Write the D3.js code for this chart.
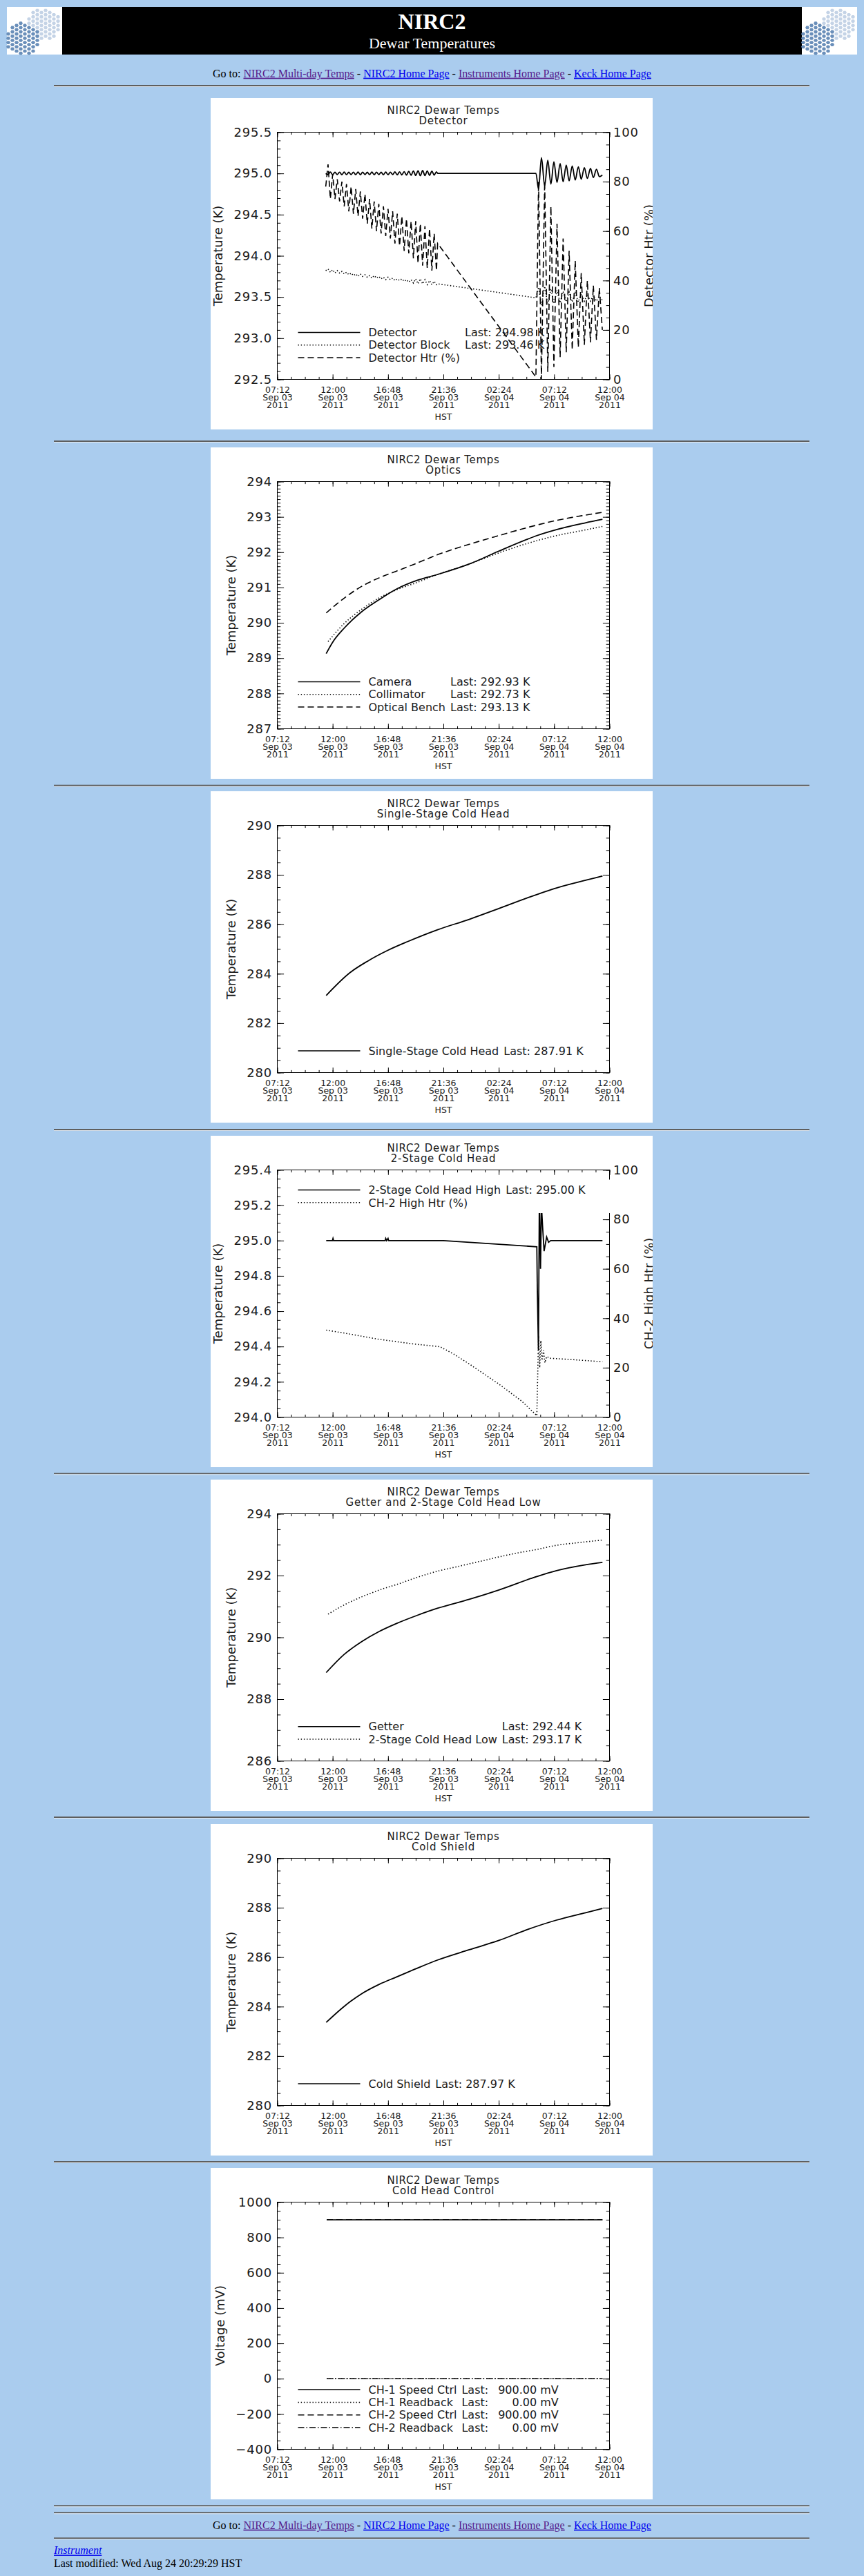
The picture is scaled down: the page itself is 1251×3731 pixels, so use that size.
<!DOCTYPE html>
<html lang='en'>
<head>
	<meta charset='UTF-8'/>
	<title>NIRC2 Dewar Temperatures</title>
	<script src='https://cdnjs.cloudflare.com/ajax/libs/d3/7.8.5/d3.min.js'></script>
	<style>
		html, body {margin: 0; padding: 0; background: #aaccee;}
		svg {display: block;}
		text {white-space: pre;}
		.serif {font-family: 'Liberation Serif', 'Times New Roman', serif;}
		.idl {font-family: 'DejaVu Sans', Verdana, sans-serif;}
	</style>
</head>
<body>
	<div id='page'></div>
	<script>
		// ---- data: times are hours after Sep 03 2011 00:00 HST ----
		const xTickLabels = ['2011-09-03 07:12', '2011-09-03 12:00', '2011-09-03 16:48', '2011-09-03 21:36',
			'2011-09-04 02:24', '2011-09-04 07:12', '2011-09-04 12:00'];

		// Detector plot: controlled stretch (A), then recovery after the step (C)
		const detTimeA = [11.4, 11.6, 11.8, 12.0, 12.2, 12.4, 12.6, 12.8, 13.0, 13.2, 13.4, 13.6, 13.8, 14.0, 14.2,
			14.4, 14.6, 14.8, 15.0, 15.2, 15.4, 15.6, 15.8, 16.0, 16.2, 16.4, 16.6, 16.8, 17.0, 17.2, 17.4, 17.6,
			17.8, 18.0, 18.2, 18.4, 18.6, 18.8, 19.0, 19.2, 19.4, 19.6, 19.8, 20.0, 20.2, 20.4, 20.6, 20.8, 21.0, 21.1];
		const detTempA = [295.00, 294.986, 295.016, 294.985, 295.014, 294.986, 295.015, 294.984, 295.016, 294.985,
			295.014, 294.986, 295.015, 294.985, 295.016, 294.984, 295.015, 294.986, 295.014, 294.985,
			295.016, 294.985, 295.015, 294.986, 295.014, 294.984, 295.016, 294.985, 295.015, 294.986,
			295.018, 294.983, 295.020, 294.982, 295.022, 294.980, 295.025, 294.978, 295.030, 294.975,
			295.032, 294.972, 295.035, 294.974, 295.030, 294.976, 295.028, 294.980, 295.020, 295.000];
		const detBlockA = [293.82, 293.84, 293.80, 293.83, 293.79, 293.82, 293.79, 293.81, 293.78, 293.80,
			293.77, 293.79, 293.76, 293.78, 293.75, 293.78, 293.75, 293.77, 293.74, 293.76,
			293.73, 293.76, 293.73, 293.75, 293.72, 293.74, 293.71, 293.74, 293.71, 293.73,
			293.70, 293.72, 293.70, 293.72, 293.69, 293.71, 293.68, 293.71, 293.67, 293.72,
			293.66, 293.72, 293.66, 293.71, 293.65, 293.70, 293.65, 293.69, 293.65, 293.66];
		const detHtrA = [78, 87, 73, 83, 73, 81, 72, 80, 70, 79, 68, 78, 67, 77, 66, 76, 65, 75, 63, 73,
			61, 72, 60, 71, 59, 70, 58, 69, 57, 68, 55, 67, 54, 66, 52, 65, 51, 64, 49, 64,
			47, 63, 46, 62, 45, 61, 44, 59, 44, 55];
		const detTimeC = [29.62, 29.85, 30.1, 30.38, 30.65, 30.92, 31.18, 31.45, 31.72, 31.98, 32.25, 32.5,
			32.77, 33.03, 33.3, 33.55, 33.82, 34.08, 34.35, 34.6, 34.87, 35.12, 35.38];
		const detTempC = [295.00, 294.81, 295.19, 294.85, 295.16, 294.87, 295.14, 294.89, 295.12, 294.90, 295.10,
			294.91, 295.09, 294.92, 295.08, 294.93, 295.07, 294.94, 295.06, 294.95, 295.05, 294.96, 294.98];
		const detBlockC = [293.49, 293.62, 293.40, 293.63, 293.41, 293.60, 293.42, 293.58, 293.43, 293.57, 293.44,
			293.56, 293.44, 293.55, 293.44, 293.54, 293.45, 293.53, 293.45, 293.52, 293.45, 293.51, 293.46];
		const detHtrC = [1, 80, 0, 80, 3, 70, 5, 63, 9, 57, 11, 52, 12, 48, 13, 43, 14, 40, 15, 38, 16, 37, 20];

		// Optics
		const camera = [[11.44, 289.13], [12.0, 289.45], [13.0, 289.85], [14.5, 290.31], [16.0, 290.65], [17.5, 290.95],
			[19.3, 291.2], [21.1, 291.37], [23.8, 291.66], [26.4, 292.03], [28.9, 292.37], [29.7, 292.47],
			[31.4, 292.64], [33.9, 292.83], [35.39, 292.93]];
		const collimator = [[11.6, 289.47], [13.0, 289.98], [14.5, 290.38], [16.0, 290.7], [17.5, 290.93], [19.3, 291.14],
			[21.1, 291.37], [23.8, 291.66], [26.4, 291.98], [28.9, 292.25], [31.4, 292.47], [33.9, 292.63], [35.39, 292.73]];
		const bench = [[11.44, 290.28], [13.0, 290.7], [14.5, 291.03], [16.0, 291.27], [17.5, 291.46], [19.3, 291.69],
			[21.1, 291.93], [23.8, 292.22], [26.4, 292.47], [28.9, 292.7], [31.4, 292.9], [33.9, 293.05], [35.39, 293.13]];

		// Single-stage cold head
		const singleStage = [[11.44, 283.12], [13.52, 284.05], [15.0, 284.5], [16.8, 284.95], [18.5, 285.3],
			[21.1, 285.78], [23.84, 286.2], [26.37, 286.63], [28.89, 287.07], [31.41, 287.47], [33.93, 287.78], [35.39, 287.95]];

		// 2-stage cold head (high) and its heater
		const chHigh = [[11.44, 295.0], [11.98, 295.0], [12.03, 295.012], [12.08, 295.0], [16.55, 295.0], [16.6, 295.012],
			[16.68, 295.0], [16.8, 295.012], [16.85, 295.0], [21.6, 295.0], [29.7, 294.965], [29.74, 294.74],
			[29.8, 294.52], [29.84, 294.38], [29.92, 295.25], [30.02, 294.84], [30.1, 295.2], [30.2, 295.08],
			[30.33, 294.94], [30.55, 295.02], [30.72, 294.99], [30.9, 295.0], [35.39, 295.0]];
		const chHighHtr = [[11.44, 35.2], [13.0, 34.0], [16.0, 31.5], [19.0, 29.6], [21.3, 28.5], [22.5, 25.5],
			[23.84, 21.5], [26.37, 13.5], [28.38, 6.5], [29.7, 0.6], [29.85, 33], [29.95, 20], [30.05, 31],
			[30.15, 23], [30.28, 27], [30.4, 22], [30.55, 24.5], [30.9, 23.8], [33.0, 23.2], [35.39, 22.4]];

		// Getter and 2-stage cold head (low)
		const getter = [[11.44, 288.86], [13.0, 289.45], [14.51, 289.86], [16.03, 290.19], [17.54, 290.45],
			[19.31, 290.71], [21.07, 290.94], [23.84, 291.23], [26.37, 291.53], [29.7, 291.97], [31.41, 292.16],
			[33.93, 292.35], [35.39, 292.43]];
		const chLow = [[11.6, 290.75], [13.0, 291.05], [14.51, 291.31], [16.03, 291.53], [17.54, 291.71],
			[19.31, 291.94], [21.07, 292.14], [22.58, 292.27], [23.84, 292.38], [25.36, 292.51], [26.37, 292.6],
			[28.13, 292.74], [29.64, 292.84], [31.41, 292.98], [33.43, 293.07], [35.39, 293.15]];

		// Cold shield
		const coldShield = [[11.44, 283.36], [13.0, 284.01], [14.51, 284.52], [16.03, 284.9], [17.54, 285.2],
			[19.31, 285.55], [21.07, 285.88], [23.84, 286.3], [26.37, 286.67], [28.89, 287.12], [31.41, 287.5],
			[33.93, 287.8], [35.39, 287.97]];

		// Cold head control (mV)
		const ch1Speed = [[11.48, 900], [35.39, 900]];
		const ch1Read = [[11.48, 0], [35.39, 0]];
		const ch2Speed = [[11.48, 900], [35.39, 900]];
		const ch2Read = [[11.48, 0], [35.39, 0]];

		// ---- helpers ----
		const zip = (t, v) => t.map((h, i) => [h, v[i]]);
		const day0 = new Date(2011, 8, 3);
		const toDate = h => new Date(day0.getTime() + h * 3600 * 1000);
		const xTicks = xTickLabels.map(d3.timeParse('%Y-%m-%d %H:%M'));
		const xMinor = d3.range(25).map(i => new Date(xTicks[0].getTime() + i * 72 * 60000));

		const STYLE = {
			solid: {w: 1.8, dash: null},
			dotted: {w: 1.6, dash: '1.4,2.8'},
			dashed: {w: 1.6, dash: '9,5'},
			dashdot: {w: 1.4, dash: '9,3,1.5,3'}
		};

		const charts = [
			{sub: 'Detector', y: [292.5, 295.5], step: 0.5, minor: 5, fmt: '.1f', yTitle: 'Temperature (K)',
				right: {domain: [0, 100], step: 20, minor: 4, title: 'Detector Htr (%)'},
				series: [
					{name: 'Detector', last: '294.98 K', style: 'solid', curve: d3.curveMonotoneX,
						data: zip(detTimeA, detTempA).concat(zip(detTimeC, detTempC))},
					{name: 'Detector Block', last: '293.46 K', style: 'dotted',
						data: zip(detTimeA, detBlockA).concat(zip(detTimeC, detBlockC))},
					{name: 'Detector Htr (%)', style: 'dashed', axis: 'right',
						data: zip(detTimeA, detHtrA).concat(zip(detTimeC, detHtrC))}
				]},
			{sub: 'Optics', y: [287, 294], step: 1, minor: 10, fmt: 'd', yTitle: 'Temperature (K)',
				series: [
					{name: 'Camera', last: '292.93 K', style: 'solid', curve: d3.curveMonotoneX, data: camera},
					{name: 'Collimator', last: '292.73 K', style: 'dotted', curve: d3.curveMonotoneX, data: collimator},
					{name: 'Optical Bench', last: '293.13 K', style: 'dashed', curve: d3.curveMonotoneX, data: bench}
				]},
			{sub: 'Single-Stage Cold Head', y: [280, 290], step: 2, minor: 4, fmt: 'd', yTitle: 'Temperature (K)',
				series: [
					{name: 'Single-Stage Cold Head', last: '287.91 K', style: 'solid', curve: d3.curveMonotoneX, data: singleStage}
				]},
			{sub: '2-Stage Cold Head', y: [294.0, 295.4], step: 0.2, minor: 4, fmt: '.1f', yTitle: 'Temperature (K)',
				right: {domain: [0, 100], step: 20, minor: 4, title: 'CH-2 High Htr (%)'},
				legendTop: true, clearBox: true,
				series: [
					{name: '2-Stage Cold Head High', last: '295.00 K', style: 'solid', data: chHigh},
					{name: 'CH-2 High Htr (%)', style: 'dotted', axis: 'right', data: chHighHtr}
				]},
			{sub: 'Getter and 2-Stage Cold Head Low', y: [286, 294], step: 2, minor: 4, fmt: 'd', yTitle: 'Temperature (K)',
				series: [
					{name: 'Getter', last: '292.44 K', style: 'solid', curve: d3.curveMonotoneX, data: getter},
					{name: '2-Stage Cold Head Low', last: '293.17 K', style: 'dotted', curve: d3.curveMonotoneX, data: chLow}
				]},
			{sub: 'Cold Shield', y: [280, 290], step: 2, minor: 4, fmt: 'd', yTitle: 'Temperature (K)',
				series: [
					{name: 'Cold Shield', last: '287.97 K', style: 'solid', curve: d3.curveMonotoneX, data: coldShield}
				]},
			{sub: 'Cold Head Control', y: [-400, 1000], step: 200, minor: 4, fmt: 'd', yTitle: 'Voltage (mV)',
				valueColumn: true,
				series: [
					{name: 'CH-1 Speed Ctrl', last: '900.00 mV', style: 'solid', data: ch1Speed},
					{name: 'CH-1 Readback', last: '0.00 mV', style: 'dotted', data: ch1Read},
					{name: 'CH-2 Speed Ctrl', last: '900.00 mV', style: 'dashed', data: ch2Speed},
					{name: 'CH-2 Readback', last: '0.00 mV', style: 'dashdot', data: ch2Read}
				]}
		];

		// ---- page ----
		const W = 1251, H = 3731;
		const svg = d3.select('#page').append('svg').attr('width', W).attr('height', H);
		const defs = svg.append('defs');

		// banner
		svg.append('rect').attr('x', 90).attr('y', 10).attr('width', 1071).attr('height', 69).attr('fill', '#000');
		[10, 1161].forEach(x0 => {
			const lg = svg.append('g').attr('transform', `translate(${x0},10)`);
			lg.append('rect').attr('width', 80).attr('height', 69).attr('fill', '#fff');
			const cells = [];
			for (let c = 0; c < 14; c++)
				for (let r = 0; r < 12; r++) cells.push([2 + c * 6, 2 + r * 6.2 + (c % 2) * 3.1]);
			const hex = d3.range(6).map(k => [3 * Math.cos(k * Math.PI / 3), 2.7 * Math.sin(k * Math.PI / 3)]);
			[['#c4d3e6', [54, 25]], ['#6a8fba', [23, 46]]].forEach(([col, ctr]) => {
				lg.append('g').selectAll('path')
					.data(cells.filter(p => Math.hypot(p[0] - ctr[0], (p[1] - ctr[1]) * 1.1) < 25))
					.join('path')
					.attr('d', p => 'M' + hex.map(h => [p[0] + h[0], p[1] + h[1]].join(',')).join('L') + 'Z')
					.attr('fill', col);
			});
		});
		svg.append('text').attr('class', 'serif').attr('x', 625.5).attr('y', 42).attr('text-anchor', 'middle')
			.attr('font-size', 32).attr('font-weight', 'bold').attr('fill', '#fff').text('NIRC2');
		svg.append('text').attr('class', 'serif').attr('x', 625.5).attr('y', 70).attr('text-anchor', 'middle')
			.attr('font-size', 22).attr('fill', '#fff').text('Dewar Temperatures');

		function nav(yb) {
			const parts = [['Go to: ', null], ['NIRC2 Multi-day Temps', '#551a8b'], [' - ', null], ['NIRC2 Home Page', '#0000ee'],
				[' - ', null], ['Instruments Home Page', '#551a8b'], [' - ', null], ['Keck Home Page', '#0000ee']];
			svg.append('text').attr('class', 'serif').attr('x', 625.5).attr('y', yb).attr('text-anchor', 'middle')
				.attr('font-size', 16)
				.selectAll('tspan').data(parts).join('tspan')
				.attr('fill', d => d[1] || '#000')
				.attr('text-decoration', d => d[1] ? 'underline' : null)
				.text(d => d[0]);
		}
		function hr(y) {
			svg.append('rect').attr('x', 78).attr('y', y).attr('width', 1094).attr('height', 2).attr('fill', '#5e5e5e');
			svg.append('rect').attr('x', 78).attr('y', y + 2).attr('width', 1094).attr('height', 1).attr('fill', '#dfe8f2');
		}

		nav(111.7);
		hr(123);

		// ---- charts ----
		const M = {left: 96.5, right: 577.5, top: 49.5, bottom: 407.5};
		const fmtT = d3.timeFormat('%H:%M'), fmtD = d3.timeFormat('%b %d'), fmtY = d3.timeFormat('%Y');
		const tickRange = (lo, hi, step) => d3.range(Math.round((hi - lo) / step) + 1).map(i => +(lo + i * step).toFixed(6));
		const FONT = "'DejaVu Sans', Verdana, sans-serif";

		function drawChart(c, top, idx) {
			const g = svg.append('g').attr('transform', `translate(305,${top})`);
			defs.append('clipPath').attr('id', 'pc' + idx).append('rect').attr('width', 640).attr('height', 480);
			defs.append('clipPath').attr('id', 'pl' + idx).append('rect')
				.attr('x', M.left).attr('y', M.top).attr('width', M.right - M.left).attr('height', M.bottom - M.top);
			const p = g.append('g').attr('clip-path', `url(#pc${idx})`).attr('class', 'idl').attr('fill', '#1a1a1a');
			p.append('rect').attr('width', 640).attr('height', 480).attr('fill', '#fff');

			const x = d3.scaleTime().domain([xTicks[0], xTicks[6]]).range([M.left, M.right]);
			const y = d3.scaleLinear().domain(c.y).range([M.bottom, M.top]);
			const yR = c.right ? d3.scaleLinear().domain(c.right.domain).range([M.bottom, M.top]) : null;
			const midX = (M.left + M.right) / 2, midY = (M.top + M.bottom) / 2;

			p.append('text').attr('x', midX).attr('y', 23.3).attr('text-anchor', 'middle').attr('font-size', 15)
				.attr('letter-spacing', 0.7).text('NIRC2 Dewar Temps');
			p.append('text').attr('x', midX).attr('y', 37.7).attr('text-anchor', 'middle').attr('font-size', 15)
				.attr('letter-spacing', 0.7).text(c.sub);

			// data
			const dg = p.append('g').attr('clip-path', `url(#pl${idx})`);
			c.series.forEach(s => {
				const ys = s.axis === 'right' ? yR : y;
				const line = d3.line().x(d => x(toDate(d[0]))).y(d => ys(d[1])).curve(s.curve || d3.curveLinear);
				dg.append('path').datum(s.data).attr('d', line).attr('fill', 'none').attr('stroke', '#000')
					.attr('stroke-width', STYLE[s.style].w).attr('stroke-dasharray', STYLE[s.style].dash);
			});

			// axes
			const ax = tr => p.append('g').attr('transform', tr).attr('color', '#000');
			const yMajor = tickRange(c.y[0], c.y[1], c.step), yMinor = tickRange(c.y[0], c.y[1], c.step / c.minor);
			const left = ax(`translate(${M.left},0)`)
				.call(d3.axisLeft(y).tickValues(yMajor).tickSize(-9.6).tickPadding(7.6).tickFormat(d3.format(c.fmt)))
				.attr('font-size', 18).attr('font-family', FONT);
			left.selectAll('text').attr('letter-spacing', 0.8).attr('fill', '#1a1a1a');
			ax(`translate(${M.left},0)`).call(d3.axisLeft(y).tickValues(yMinor).tickSize(-4.8).tickFormat(''));

			if (c.right) {
				const rMajor = tickRange(c.right.domain[0], c.right.domain[1], c.right.step);
				const rMinor = tickRange(c.right.domain[0], c.right.domain[1], c.right.step / c.right.minor);
				ax(`translate(${M.right},0)`)
					.call(d3.axisRight(yR).tickValues(rMajor).tickSize(-9.6).tickPadding(5.5).tickFormat(d3.format('d')))
					.attr('font-size', 18).attr('font-family', FONT)
					.selectAll('text').attr('letter-spacing', 0.8).attr('fill', '#1a1a1a');
				ax(`translate(${M.right},0)`).call(d3.axisRight(yR).tickValues(rMinor).tickSize(-4.8).tickFormat(''));
			} else {
				ax(`translate(${M.right},0)`).call(d3.axisRight(y).tickValues(yMajor).tickSize(-9.6).tickFormat(''));
				ax(`translate(${M.right},0)`).call(d3.axisRight(y).tickValues(yMinor).tickSize(-4.8).tickFormat(''));
			}

			const bottom = ax(`translate(0,${M.bottom})`)
				.call(d3.axisBottom(x).tickValues(xTicks).tickSize(-7.2).tickFormat(''));
			ax(`translate(0,${M.bottom})`).call(d3.axisBottom(x).tickValues(xMinor).tickSize(-3.6).tickFormat(''));
			ax(`translate(0,${M.top})`).call(d3.axisTop(x).tickValues(xTicks).tickSize(-7.2).tickFormat(''));
			ax(`translate(0,${M.top})`).call(d3.axisTop(x).tickValues(xMinor).tickSize(-3.6).tickFormat(''));
			bottom.selectAll('.tick text').remove();
			bottom.selectAll('.tick').append('text').attr('fill', '#1a1a1a').attr('text-anchor', 'middle')
				.attr('font-size', 12.5).attr('font-family', FONT)
				.selectAll('tspan').data(d => [fmtT(d), fmtD(d), fmtY(d)]).join('tspan')
				.attr('x', 0).attr('y', (d, i) => 19 + i * 11.2).text(d => d);
			p.selectAll('.domain').remove();

			p.append('rect').attr('x', M.left).attr('y', M.top).attr('width', M.right - M.left)
				.attr('height', M.bottom - M.top).attr('fill', 'none').attr('stroke', '#000');

			p.append('text').attr('x', midX).attr('y', M.bottom + 58).attr('text-anchor', 'middle')
				.attr('font-size', 12.5).text('HST');

			// axis titles
			const lb = left.node().getBBox();
			const tx = M.left + lb.x - 16;
			p.append('text').attr('transform', `translate(${tx},${midY}) rotate(-90)`).attr('text-anchor', 'middle')
				.attr('font-size', 18).text(c.yTitle);
			if (c.right) {
				p.append('text').attr('transform', `translate(641,${midY}) rotate(-90)`).attr('text-anchor', 'middle')
					.attr('font-size', 18).text(c.right.title);
			}

			// legend
			if (c.clearBox) {
				p.append('rect').attr('x', M.left + 25).attr('y', M.top + 14).attr('width', M.right - M.left - 19)
					.attr('height', 48.5).attr('fill', '#fff');
			}
			const n = c.series.length;
			const rowY = i => c.legendTop ? M.top + 29 + i * 18.3 : M.top + 326.5 - (n - 1 - i) * 18.3;
			const lg = p.append('g').attr('font-size', 16);
			const textX = M.left + 132;
			c.series.forEach((s, i) => {
				lg.append('line').attr('x1', M.left + 30).attr('x2', M.left + 120).attr('y1', rowY(i)).attr('y2', rowY(i))
					.attr('stroke', '#000').attr('stroke-width', Math.min(STYLE[s.style].w, 1.5))
					.attr('stroke-dasharray', STYLE[s.style].dash);
			});
			const labels = lg.selectAll('text.lab').data(c.series).join('text').attr('class', 'lab')
				.attr('x', textX).attr('y', (d, i) => rowY(i) + 5.7).text(d => d.name);
			let maxW = 0;
			labels.each(function () { maxW = Math.max(maxW, this.getComputedTextLength()); });
			const lastX = textX + maxW + 7;
			const withLast = c.series.filter(s => s.last);
			if (c.valueColumn) {
				const lastTxt = lg.selectAll('text.last').data(withLast).join('text').attr('class', 'last')
					.attr('x', lastX).attr('y', d => rowY(c.series.indexOf(d)) + 5.7).text('Last:');
				const lastW = lastTxt.node().getComputedTextLength();
				const vals = lg.selectAll('text.val').data(withLast).join('text').attr('class', 'val')
					.attr('y', d => rowY(c.series.indexOf(d)) + 5.7).attr('text-anchor', 'end').text(d => d.last);
				let maxV = 0;
				vals.each(function () { maxV = Math.max(maxV, this.getComputedTextLength()); });
				vals.attr('x', lastX + lastW + 14 + maxV);
			} else {
				lg.selectAll('text.last').data(withLast).join('text').attr('class', 'last')
					.attr('x', lastX).attr('y', d => rowY(c.series.indexOf(d)) + 5.7).text(d => 'Last: ' + d.last);
			}
		}

		const panelTops = [142, 648, 1146, 1645, 2143, 2642, 3140];
		charts.forEach((c, i) => drawChart(c, panelTops[i], i));
		[638, 1136.7, 1635, 2133.3, 2631, 3130, 3628.3, 3638.3].forEach(hr);

		// footer
		nav(3662.7);
		hr(3675.3);
		svg.append('text').attr('class', 'serif').attr('x', 78).attr('y', 3699.3).attr('font-size', 16)
			.attr('font-style', 'italic').attr('fill', '#0000ee').attr('text-decoration', 'underline').text('Instrument');
		svg.append('text').attr('class', 'serif').attr('x', 78).attr('y', 3718.3).attr('font-size', 16)
			.attr('fill', '#000').text('Last modified: Wed Aug 24 20:29:29 HST');
	</script>
</body>
</html>
